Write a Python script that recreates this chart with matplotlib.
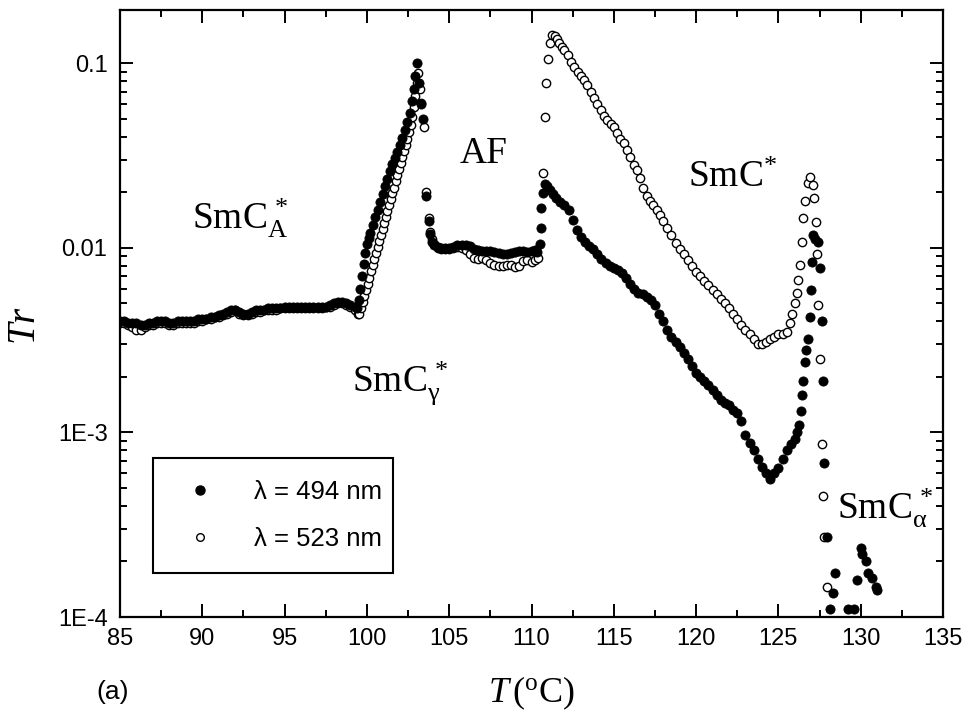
import matplotlib
matplotlib.use("Agg")
import matplotlib.pyplot as plt
from matplotlib.ticker import FixedLocator, MultipleLocator, LogLocator, NullFormatter
from matplotlib.lines import Line2D

# ---------------- data ----------------
T_494 = [85.0, 85.25, 85.5, 85.75, 86.0, 86.25, 86.5, 86.75, 87.0, 87.25, 87.5, 87.75,
         88.0, 88.25, 88.5, 88.75, 89.0, 89.25, 89.5, 89.75, 90.0, 90.25, 90.5, 90.75,
         91.0, 91.25, 91.5, 91.75, 92.0, 92.25, 92.5, 92.75, 93.0, 93.25, 93.5, 93.75,
         94.0, 94.25, 94.5, 94.75, 95.0, 95.25, 95.5, 95.75, 96.0, 96.25, 96.5, 96.75,
         97.0, 97.25, 97.5, 97.75, 98.0, 98.25, 98.5, 98.75, 99.0, 99.25,
         99.4, 99.5, 99.6, 99.7, 99.8, 99.9, 100.0, 100.1, 100.2, 100.35, 100.5, 100.65,
         100.8, 100.95, 101.1, 101.25, 101.4, 101.55, 101.7, 101.85, 102.0, 102.15, 102.3,
         102.45, 102.6, 102.75, 102.85, 102.95, 103.05, 103.15, 103.3, 103.4, 103.6, 103.75,
         103.85, 103.95, 104.1, 104.3, 104.5, 104.75, 105.0, 105.25, 105.5, 105.75, 106.0,
         106.25, 106.5, 106.75, 107.0, 107.25, 107.5, 107.75, 108.0, 108.25, 108.5, 108.75,
         109.0, 109.25, 109.5, 109.75, 110.0, 110.2, 110.35, 110.5, 110.55, 110.6, 110.7,
         110.8, 110.95, 111.1, 111.3, 111.5, 111.75, 112.0, 112.25, 112.5, 112.75, 113.0,
         113.25, 113.5, 113.75, 114.0, 114.25, 114.5, 114.75, 115.0, 115.25, 115.5, 115.75,
         116.0, 116.25, 116.5, 116.75, 117.0, 117.25, 117.5, 117.75, 118.0, 118.25, 118.5,
         118.75, 119.0, 119.25, 119.5, 119.75, 120.0, 120.25, 120.5, 120.75, 121.0, 121.25,
         121.5, 121.75, 122.0, 122.25, 122.5, 122.75, 123.0, 123.25, 123.5, 123.75, 124.0,
         124.25, 124.5, 124.75, 125.0, 125.25, 125.5, 125.75, 126.0, 126.15, 126.25, 126.35,
         126.45, 126.5, 126.6, 126.7, 126.8, 126.9, 127.0, 127.05, 127.1, 127.25, 127.4,
         127.55, 127.65, 127.7, 127.75, 127.95, 128.15, 128.3, 128.45, 129.2, 129.6, 129.8,
         130.0, 130.1, 130.3, 130.45, 130.7, 130.9, 131.0]
Tr_494 = [0.0040, 0.0040, 0.0039, 0.0039, 0.0039, 0.0038, 0.0038, 0.0039, 0.0039, 0.0040,
          0.0040, 0.0040, 0.0039, 0.0039, 0.0040, 0.0040, 0.0040, 0.0040, 0.0040, 0.0041,
          0.0041, 0.0041, 0.0042, 0.0042, 0.0043, 0.0044, 0.0045, 0.0046, 0.0046, 0.0045,
          0.0044, 0.0044, 0.0045, 0.0046, 0.0046, 0.0046, 0.0047, 0.0047, 0.0047, 0.0047,
          0.0048, 0.0048, 0.0048, 0.0048, 0.0048, 0.0048, 0.0048, 0.0048, 0.0048, 0.0048,
          0.0048, 0.0049, 0.0050, 0.0051, 0.0051, 0.0050, 0.0049, 0.0048,
          0.0047, 0.0052, 0.0060, 0.0070, 0.0082, 0.0094, 0.0105, 0.0113, 0.0120, 0.0132,
          0.0146, 0.0161, 0.0178, 0.0196, 0.0215, 0.0236, 0.0259, 0.0283, 0.0307, 0.0330,
          0.0360, 0.0395, 0.0435, 0.0480, 0.0540, 0.0620, 0.0720, 0.0850, 0.1000, 0.0780,
          0.0600, 0.0500, 0.0190, 0.0140, 0.0118, 0.0108, 0.0104, 0.0101, 0.0100, 0.0100,
          0.0100, 0.0101, 0.0103, 0.0104, 0.0104, 0.0102, 0.0099, 0.0097, 0.0096, 0.0096,
          0.0096, 0.0095, 0.0094, 0.0093, 0.0093, 0.0094, 0.0095, 0.0096, 0.0096, 0.0095,
          0.0096, 0.0097, 0.0095, 0.0105, 0.0128, 0.0164, 0.0198, 0.0222, 0.0215, 0.0205,
          0.0195, 0.0187, 0.0178, 0.0170, 0.0160, 0.0142, 0.0125, 0.0115, 0.0108, 0.0102,
          0.0098, 0.0093, 0.0087, 0.0083, 0.0080, 0.0078, 0.0076, 0.0073, 0.0069, 0.0064,
          0.0060, 0.0057, 0.0056, 0.0054, 0.0052, 0.0049, 0.0044, 0.0040, 0.0036, 0.0033,
          0.0031, 0.0029, 0.0027, 0.0025, 0.0023, 0.0021, 0.0020, 0.0019, 0.0018, 0.0017,
          0.0016, 0.0015, 0.00145, 0.00140, 0.00133, 0.00127, 0.00115, 0.00097, 0.00088,
          0.00080, 0.00072, 0.00065, 0.00060, 0.00056, 0.00060, 0.00064, 0.00072, 0.00080,
          0.00087, 0.00092, 0.00100, 0.00110, 0.00130, 0.00160, 0.0019, 0.0024, 0.0028,
          0.0032, 0.0042, 0.0059, 0.0084, 0.0117, 0.0112, 0.0107, 0.0078, 0.0040, 0.0019,
          0.00068, 0.00027, 0.00011, 0.000135, 0.000173, 0.00011, 0.00011, 0.000158,
          0.000236, 0.00022, 0.00020, 0.000173, 0.000163, 0.000146, 0.00014]

T_523 = [85.0, 85.25, 85.5, 85.75, 86.0, 86.25, 86.5, 86.75, 87.0, 87.25, 87.5, 87.75,
         88.0, 88.25, 88.5, 88.75, 89.0, 89.25, 89.5, 89.75, 90.0, 90.25, 90.5, 90.75,
         91.0, 91.25, 91.5, 91.75, 92.0, 92.25, 92.5, 92.75, 93.0, 93.25, 93.5, 93.75,
         94.0, 94.25, 94.5, 94.75, 95.0, 95.25, 95.5, 95.75, 96.0, 96.25, 96.5, 96.75,
         97.0, 97.25, 97.5, 97.75, 98.0, 98.25, 98.5, 98.75, 99.0, 99.25,
         99.45, 99.55, 99.65, 99.75, 99.85, 99.95, 100.05, 100.15, 100.25, 100.35, 100.45,
         100.55, 100.65, 100.75, 100.85, 100.95, 101.05, 101.15, 101.25, 101.35, 101.45,
         101.55, 101.65, 101.75, 101.85, 101.95, 102.05, 102.15, 102.25, 102.35, 102.45,
         102.55, 102.65, 102.75, 102.85, 102.95, 103.05, 103.1, 103.2, 103.3, 103.45, 103.6,
         103.75, 103.85, 103.95, 104.1, 104.3, 104.5, 104.75, 105.0, 105.25, 105.5, 105.75,
         106.0, 106.25, 106.5, 106.75, 107.0, 107.25, 107.5, 107.75, 108.0, 108.25, 108.5,
         108.75, 109.0, 109.25, 109.5, 109.75, 110.0, 110.2, 110.4, 110.7, 110.8, 110.9,
         111.0, 111.1, 111.25, 111.4, 111.55, 111.7, 111.85, 112.0, 112.2, 112.4, 112.6,
         112.8, 113.0, 113.2, 113.4, 113.6, 113.8, 114.0, 114.2, 114.4, 114.6, 114.8, 115.0,
         115.2, 115.4, 115.6, 115.8, 116.0, 116.2, 116.4, 116.6, 116.8, 117.0, 117.2, 117.4,
         117.6, 117.8, 118.0, 118.25, 118.5, 118.75, 119.0, 119.25, 119.5, 119.75, 120.0,
         120.25, 120.5, 120.75, 121.0, 121.25, 121.5, 121.75, 122.0, 122.25, 122.5, 122.75,
         123.0, 123.25, 123.5, 123.75, 124.0, 124.25, 124.5, 124.75, 125.0, 125.25, 125.5,
         125.7, 125.85, 126.0, 126.15, 126.2, 126.3, 126.45, 126.5, 126.6, 126.8, 126.9,
         127.1, 127.15, 127.3, 127.35, 127.4, 127.55, 127.65, 127.7, 127.75, 127.95]
Tr_523 = [0.0039, 0.0039, 0.0038, 0.0037, 0.0036, 0.0036, 0.0037, 0.0038, 0.0038, 0.0039,
          0.0039, 0.0039, 0.0038, 0.0038, 0.0039, 0.0039, 0.0039, 0.0039, 0.0039, 0.0040,
          0.0040, 0.0041, 0.0041, 0.0042, 0.0042, 0.0043, 0.0044, 0.0045, 0.0046, 0.0044,
          0.0043, 0.0043, 0.0044, 0.0045, 0.0045, 0.0046, 0.0046, 0.0046, 0.0046, 0.0047,
          0.0047, 0.0047, 0.0047, 0.0047, 0.0047, 0.0047, 0.0047, 0.0047, 0.0047, 0.0047,
          0.0048, 0.0048, 0.0049, 0.0050, 0.0050, 0.0049, 0.0048, 0.0046,
          0.0044, 0.0044, 0.0047, 0.0051, 0.0055, 0.0059, 0.0064, 0.0069, 0.0075, 0.0081,
          0.0087, 0.0094, 0.0101, 0.0109, 0.0117, 0.0126, 0.0136, 0.0147, 0.0158, 0.0170,
          0.0183, 0.0197, 0.0212, 0.0229, 0.0247, 0.0266, 0.0287, 0.0310, 0.0334, 0.0360,
          0.0390, 0.0425, 0.0465, 0.0510, 0.0580, 0.0660, 0.0780, 0.0880, 0.0720, 0.0610,
          0.0450, 0.0200, 0.0145, 0.0122, 0.0112, 0.0105, 0.0100, 0.0098, 0.0098, 0.0099,
          0.0100, 0.0101, 0.0100, 0.0097, 0.0092, 0.0088, 0.0087, 0.0088, 0.0086, 0.0083,
          0.0081, 0.0080, 0.0080, 0.0081, 0.0081, 0.0079, 0.0080, 0.0085, 0.0086, 0.0084,
          0.0086, 0.0088, 0.0253, 0.051, 0.078, 0.105, 0.128, 0.142, 0.140, 0.135, 0.128,
          0.122, 0.118, 0.110, 0.102, 0.095, 0.089, 0.085, 0.081, 0.076, 0.070, 0.065, 0.060,
          0.056, 0.052, 0.049, 0.047, 0.045, 0.042, 0.039, 0.037, 0.034, 0.031, 0.028,
          0.0265, 0.024, 0.021, 0.019, 0.018, 0.017, 0.0160, 0.0150, 0.0140, 0.0128, 0.0117,
          0.0106, 0.0098, 0.0092, 0.0086, 0.0080, 0.0074, 0.0070, 0.0066, 0.0063, 0.0059,
          0.0056, 0.0053, 0.0050, 0.0047, 0.0044, 0.0041, 0.0038, 0.0036, 0.0034, 0.0032,
          0.0030, 0.0030, 0.0031, 0.0032, 0.0033, 0.0034, 0.0034, 0.0035, 0.0039, 0.0044,
          0.0050, 0.0057, 0.0067, 0.0081, 0.0107, 0.0145, 0.018, 0.0224, 0.0242, 0.022,
          0.0186, 0.0138, 0.0092, 0.0049, 0.0025, 0.00087, 0.00045, 0.00027, 0.000145]

series_labels = ["λ = 494 nm", "λ = 523 nm"]
x_ticks = [85, 90, 95, 100, 105, 110, 115, 120, 125, 130, 135]
y_ticks = [1e-4, 1e-3, 1e-2, 1e-1]
y_ticklabels = ["1E-4", "1E-3", "0.01", "0.1"]
phase_labels = [r"$\mathrm{SmC}_{\mathrm{A}}^{\,*}$", "AF", r"$\mathrm{SmC}^{*}$",
                r"$\mathrm{SmC}_{\mathrm{γ}}^{\,*}$", r"$\mathrm{SmC}_{\mathrm{α}}^{\,*}$"]
phase_pos = [(0.0875, 0.640), (0.413, 0.748), (0.690, 0.708), (0.282, 0.372), (0.871, 0.162)]

# ---------------- style ----------------
plt.rcParams["font.family"] = ["Liberation Sans", "DejaVu Sans"]
plt.rcParams["mathtext.fontset"] = "custom"
plt.rcParams["mathtext.rm"] = "Liberation Serif"
plt.rcParams["mathtext.it"] = "Liberation Serif:italic"
plt.rcParams["mathtext.bf"] = "Liberation Serif:bold"

fig = plt.figure(figsize=(9.67, 7.14), dpi=100)
ax = fig.add_axes([120 / 967, 1 - 617 / 714, 823 / 967, 607 / 714])

ax.plot(T_523, Tr_523, linestyle="none", marker="o", ms=6.0, mfc="white",
        mec="black", mew=1.0, zorder=2)
ax.plot(T_494, Tr_494, linestyle="none", marker="o", ms=6.6, mfc="black",
        mec="black", mew=0.6, zorder=3)

ax.set_yscale("log")
ax.set_xlim(85, 135)
ax.set_ylim(1e-4, 0.194)

ax.xaxis.set_major_locator(FixedLocator(x_ticks))
ax.set_xticklabels([str(v) for v in x_ticks])
ax.xaxis.set_minor_locator(MultipleLocator(2.5))
ax.yaxis.set_major_locator(FixedLocator(y_ticks))
ax.set_yticklabels(y_ticklabels)
ax.yaxis.set_minor_locator(LogLocator(base=10, subs=[2, 3, 4, 5, 6, 7, 8, 9]))
ax.yaxis.set_minor_formatter(NullFormatter())

ax.tick_params(which="both", direction="in", top=True, right=True, width=1.4,
               colors="black")
ax.tick_params(which="major", length=9.5, labelsize=17)
ax.tick_params(which="minor", length=5)
ax.tick_params(axis="x", which="major", pad=8)
ax.tick_params(axis="y", which="major", pad=9)
for sp in ax.spines.values():
    sp.set_linewidth(1.6)

ax.set_xlabel(r"$T\,(^{\mathrm{o}}\mathrm{C})$", fontsize=26)
ax.xaxis.set_label_coords(0.5, -0.095)
ax.set_ylabel(r"$Tr$", fontsize=28)
ax.yaxis.set_label_coords(-0.094, 0.48)

for txt, (px, py) in zip(phase_labels, phase_pos):
    if txt == "AF":
        ax.text(px, py, txt, transform=ax.transAxes, fontsize=27,
                family="Liberation Serif", ha="left", va="baseline")
    else:
        ax.text(px, py, txt, transform=ax.transAxes, fontsize=27,
                ha="left", va="baseline")

handles = [Line2D([], [], linestyle="none", marker="o", ms=6.5, mfc="black", mec="black"),
           Line2D([], [], linestyle="none", marker="o", ms=5.5, mfc="white", mec="black",
                  mew=1.0)]
leg = ax.legend(handles, series_labels, loc="lower left",
                bbox_to_anchor=(0.040, 0.0725, 0.292, 0.18), mode="expand",
                borderaxespad=0, borderpad=0.85, labelspacing=0.9, handlelength=2.0,
                handletextpad=1.1, fancybox=False, fontsize=18.5, framealpha=1)
leg.get_frame().set_edgecolor("black")
leg.get_frame().set_linewidth(1.5)

fig.text(113 / 967, 1 - 692 / 714, "(a)", ha="center", va="center", fontsize=19)

fig.savefig("out.png", dpi=100)
